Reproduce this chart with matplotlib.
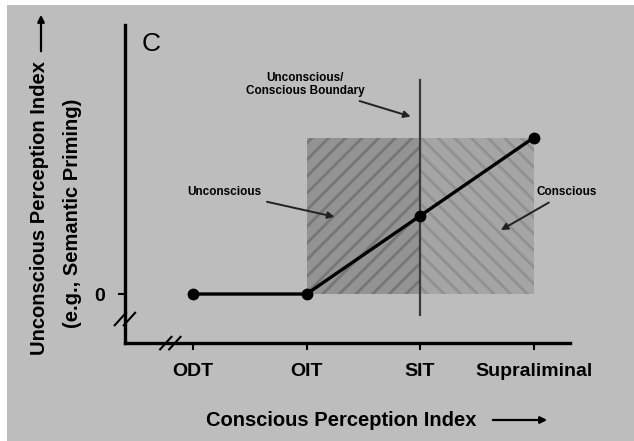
import matplotlib.pyplot as plt
from matplotlib.patches import Rectangle

plt.rcParams['font.family'] = ['Liberation Sans', 'DejaVu Sans']
plt.rcParams['hatch.linewidth'] = 2.0

# data
tick_pos = [1, 2, 3, 4]
tick_labels = ['ODT', 'OIT', 'SIT', 'Supraliminal']
priming = [0, 0, 0.5, 1.0]
boundary_x = 3
boundary_span = [-0.135, 1.37]
uncon_region = [2, 3]
con_region = [3, 4]
region_height = [0, 1.0]

bg = '#bdbdbd'
fig = plt.figure(figsize=(6.34, 4.41), dpi=100, facecolor='white')
fig.patches.append(Rectangle((7 / 634, 0), 1, 1 - 5 / 441, transform=fig.transFigure,
                             facecolor=bg, edgecolor='none', zorder=-1))
ax = fig.add_axes([0.197, 0.222, 0.702, 0.721])
ax.set_facecolor(bg)

# shaded regions
ax.add_patch(Rectangle((uncon_region[0], region_height[0]), uncon_region[1] - uncon_region[0],
                       region_height[1] - region_height[0], facecolor='#939393',
                       edgecolor='#777777', hatch='//', linewidth=0, zorder=1))
ax.add_patch(Rectangle((con_region[0], region_height[0]), con_region[1] - con_region[0],
                       region_height[1] - region_height[0], facecolor='#a5a5a5',
                       edgecolor='#919191', hatch='\\\\', linewidth=0, zorder=1))

ax.plot([boundary_x, boundary_x], boundary_span, color='#3a3a3a', lw=1.6, zorder=2)
ax.plot(tick_pos, priming, color='black', lw=2.4, marker='o', ms=7.5, zorder=3)

ax.set_xlim(0.4, 4.32)
ax.set_ylim(-0.314, 1.72)
ax.spines['top'].set_visible(False)
ax.spines['right'].set_visible(False)
for s in ['left', 'bottom']:
    ax.spines[s].set_linewidth(2.4)
ax.set_xticks(tick_pos)
ax.set_xticklabels(tick_labels, fontsize=14, fontweight='bold')
ax.set_yticks([0])
ax.set_yticklabels(['0'], fontsize=14, fontweight='bold')
ax.tick_params(length=5, width=1.5, pad=9)

# axis break marks
for xb, yb in [(0.4, -0.16), (0.8, -0.314)]:
    for d in [-0.04, 0.04]:
        ax.plot([xb - 0.05 + d, xb + 0.05 + d], [yb - 0.04, yb + 0.04], color='black',
                lw=1.5, clip_on=False, zorder=4)

ax.text(0.63, 1.6, 'C', fontsize=19, va='center', ha='center')

ann = dict(arrowstyle='-|>', color='#222222', lw=1.4, mutation_scale=10)
ax.annotate('Unconscious/\nConscious Boundary', xy=(2.94, 1.13), xytext=(1.99, 1.34),
            fontsize=8.5, fontweight='bold', ha='center', va='center', arrowprops=ann)
ax.annotate('Unconscious', xy=(2.27, 0.49), xytext=(1.28, 0.65),
            fontsize=8.5, fontweight='bold', ha='center', va='center', arrowprops=ann)
ax.annotate('Conscious', xy=(3.69, 0.40), xytext=(4.29, 0.65),
            fontsize=8.5, fontweight='bold', ha='center', va='center', arrowprops=ann)

# axis titles
fig.text(341 / 634, 1 - 420 / 441, 'Conscious Perception Index', fontsize=14.5,
         fontweight='bold', ha='center', va='center')
fig.text(40 / 634, 1 - 208 / 441, 'Unconscious Perception Index', fontsize=14.5,
         fontweight='bold', ha='center', va='center', rotation=90)
fig.text(73 / 634, 1 - 213 / 441, '(e.g., Semantic Priming)', fontsize=14.5,
         fontweight='bold', ha='center', va='center', rotation=90)
ax.annotate('', xy=(550 / 634, 1 - 420 / 441), xytext=(490 / 634, 1 - 420 / 441),
            xycoords='figure fraction',
            arrowprops=dict(arrowstyle='-|>', color='black', lw=1.6, mutation_scale=10))
ax.annotate('', xy=(41 / 634, 1 - 12 / 441), xytext=(41 / 634, 1 - 54 / 441),
            xycoords='figure fraction',
            arrowprops=dict(arrowstyle='-|>', color='black', lw=1.6, mutation_scale=10))

fig.savefig('out.png', dpi=100, facecolor=fig.get_facecolor())
